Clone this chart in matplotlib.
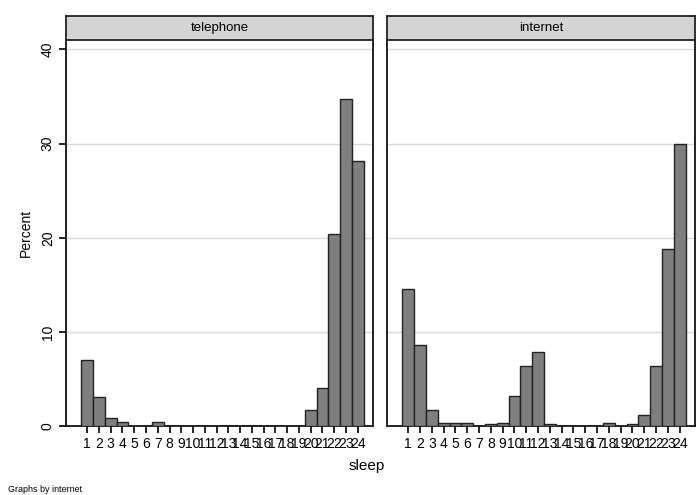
import numpy as np
import matplotlib
matplotlib.use('Agg')
import matplotlib.pyplot as plt

# sleep categories and percent per group
sleep = list(range(1, 25))
tick_labels = [str(s) for s in sleep]
panel_names = ['telephone', 'internet']
pct_telephone = [7.0, 3.1, 0.9, 0.4, 0, 0, 0.4, 0, 0, 0, 0, 0,
                 0, 0, 0, 0, 0, 0, 0, 1.7, 4.0, 20.4, 34.7, 28.1]
pct_internet = [14.6, 8.6, 1.7, 0.3, 0.3, 0.3, 0, 0.2, 0.3, 3.2, 6.4, 7.9,
                0.2, 0, 0, 0, 0, 0.3, 0, 0.2, 1.2, 6.4, 18.8, 30.0]
yticks = [0, 10, 20, 30, 40]

W, H = 696, 495
fig = plt.figure(figsize=(W / 100, H / 100), dpi=100)

def fx(px):
    return px / W

def fy(px):
    return 1 - px / H

panels = [(66, 373, pct_telephone), (387, 695, pct_internet)]
top, bot = 40, 426

for i, (x0, x1, vals) in enumerate(panels):
    ax = fig.add_axes([fx(x0), fy(bot), fx(x1 - x0), (bot - top) / H])
    ax.bar(sleep, vals, width=1.0, color='#7f7f7f', edgecolor='#222222', linewidth=1.0, zorder=3)
    ax.set_xlim(-0.8, 25.3)
    ax.set_ylim(0, 41)
    ax.set_yticks(yticks)
    ax.grid(axis='y', color='#d9d9d9', linewidth=1.0, zorder=0)
    ax.set_xticks(sleep)
    ax.set_xticklabels(tick_labels, fontsize=10, fontfamily='Liberation Sans')
    ax.tick_params(axis='x', direction='out', length=5, width=1.2, pad=3, colors='black')
    for s in ['left', 'right', 'bottom']:
        ax.spines[s].set_linewidth(1.3)
        ax.spines[s].set_color('#111111')
    ax.spines['top'].set_visible(False)
    if i == 0:
        ax.set_yticklabels([str(t) for t in yticks], rotation=90, va='center', fontsize=10,
                           fontfamily='Liberation Sans')
        ax.tick_params(axis='y', direction='out', length=5, width=1.2, pad=3)
        ax.set_ylabel('Percent', fontsize=10, fontfamily='Liberation Sans', labelpad=6)
    else:
        ax.tick_params(axis='y', left=False, labelleft=False)

    # strip header
    sax = fig.add_axes([fx(x0), fy(top), fx(x1 - x0), 24 / H])
    sax.set_facecolor('#d4d4d4')
    sax.set_xticks([])
    sax.set_yticks([])
    for s in sax.spines.values():
        s.set_linewidth(1.3)
        s.set_color('#222222')
    sax.text(0.5, 0.5, panel_names[i], ha='center', va='center', fontsize=9.5,
             fontfamily='Liberation Sans', transform=sax.transAxes)

fig.text(fx(367), fy(466), 'sleep', ha='center', va='center', fontsize=11,
         fontfamily='Liberation Sans')
fig.text(fx(8), fy(489), 'Graphs by internet', ha='left', va='center', fontsize=6.5,
         fontfamily='Liberation Sans')

fig.savefig('out.png', dpi=100)
